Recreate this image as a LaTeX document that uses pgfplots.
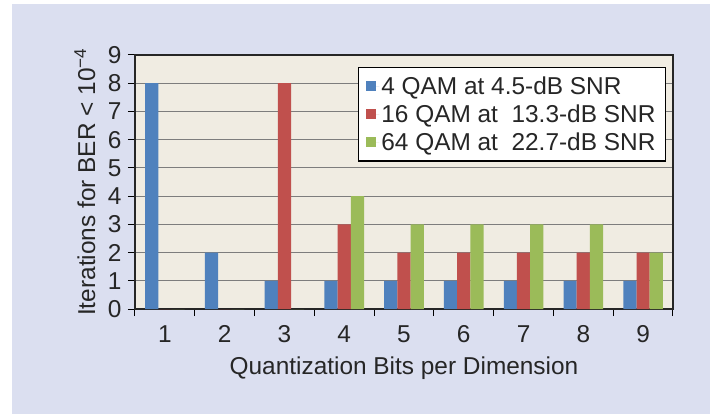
\documentclass[border=0pt]{standalone}
\usepackage{fontspec}
\setmainfont{Liberation Sans}
\usepackage{pgfplots}
\pgfplotsset{compat=1.18}
\definecolor{panel}{RGB}{219,223,240}
\definecolor{plotbg}{RGB}{240,236,226}
\definecolor{cblue}{RGB}{79,129,189}
\definecolor{cred}{RGB}{192,80,77}
\definecolor{cgreen}{RGB}{155,187,89}
\definecolor{gridc}{RGB}{125,125,125}
\begin{document}
\begin{tikzpicture}
\fill[white] (-135bp,-105bp) rectangle (575bp,309bp);
\fill[panel] (-123bp,-105bp) rectangle (575bp,305bp);
\begin{axis}[
  at={(0,0)}, anchor=south west,
  scale only axis, width=538bp, height=254bp,
  xmin=0.5, xmax=9.5, ymin=0, ymax=9,
  ybar=0pt, bar width=13.2bp,
  axis background/.style={fill=plotbg},
  xtick={1,...,9},
  major x tick style={draw=none},
  minor xtick={0.5,1.5,...,9.5},
  ytick={0,...,9},
  tick align=outside, xtick pos=bottom, ytick pos=left,
  major tick length=7bp, minor tick length=7bp,
  every tick/.style={draw=black, line width=1bp},
  ymajorgrids, major grid style={draw=gridc, line width=0.9bp},
  axis line style={draw=black!85, line width=1.2bp},
  /pgf/number format/assume math mode=true,
  ticklabel style={font=\fontsize{24.5}{28}\selectfont, text=black!85},
  xticklabel style={yshift=-6bp},
  yticklabel style={xshift=-3bp},
  label style={font=\fontsize{24.5}{28}\selectfont, text=black!85},
  xlabel={Quantization Bits per Dimension},
  ylabel={Iterations for BER < 10\textsuperscript{−4}},
  xlabel style={at={(axis description cs:0.5,-0.232)}, anchor=center},
  ylabel style={at={(axis description cs:-0.093,0.5)}, anchor=center},
  legend style={at={(rel axis cs:0.987,0.953)}, anchor=north east,
    draw=black, line width=1.2bp, fill=white, text=black!85,
    font=\fontsize{24.5}{28}\selectfont, inner xsep=8bp, inner ysep=7bp,
    row sep=5bp},
  legend cell align=left,
  legend image code/.code={\fill[#1] (0bp,-5bp) rectangle (10bp,5bp); \path (0bp,0bp) -- (13bp,0bp);},
]
\addplot[fill=cblue, draw=none] coordinates {(1,8) (2,2) (3,1) (4,1) (5,1) (6,1) (7,1) (8,1) (9,1)};
\addplot[fill=cred, draw=none] coordinates {(1,0) (2,0) (3,8) (4,3) (5,2) (6,2) (7,2) (8,2) (9,2)};
\addplot[fill=cgreen, draw=none] coordinates {(1,0) (2,0) (3,0) (4,4) (5,3) (6,3) (7,3) (8,3) (9,2)};
\legend{4 QAM at 4.5-dB SNR, 16 QAM at~~13.3-dB SNR, 64 QAM at~~22.7-dB SNR}
\end{axis}
\end{tikzpicture}
\end{document}
